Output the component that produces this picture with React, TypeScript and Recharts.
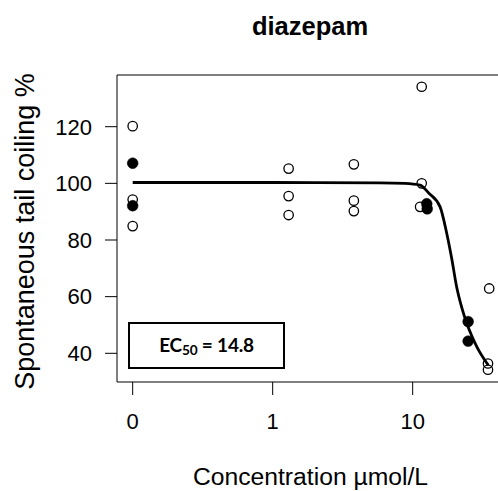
import React from "react";
import {
  ScatterChart,
  Scatter,
  XAxis,
  YAxis,
  ReferenceLine,
  Label,
} from "recharts";

// Control group (concentration 0) is drawn at the position of 0.1 on the log axis
const CONTROL_POS = 0.1;

const openConc = [0, 0, 0, 1.3, 1.3, 1.3, 3.8, 3.8, 3.8, 11.6, 11.6, 11.3, 34.5, 34.5, 35.2];
const openVal = [120.2, 94.3, 84.9, 105.2, 95.5, 88.8, 106.7, 93.9, 90.2, 134.1, 100.0, 91.7, 36.4, 34.2, 62.9];

const filledConc = [0, 0, 12.6, 12.7, 24.9, 24.9];
const filledVal = [107.1, 92.1, 92.8, 91.0, 51.2, 44.3];

const curveConc = [0, 1, 5.8, 8.8, 11.3, 13.0, 15.7, 17.5, 19.0, 20.6, 22.4, 24.3, 26.5, 28.8, 33.8, 34.7];
const curveVal = [100.3, 100.3, 100.2, 100.0, 99.4, 96.6, 91.7, 82.4, 73.5, 63.5, 56.2, 50.7, 46.0, 42.2, 36.6, 35.8];

const xTicks = [0.1, 1, 10];
const xTickLabels = ["0", "1", "10"];
const yTicks = [40, 60, 80, 100, 120];

const X_DOMAIN = [0.07727, 43.45];
const Y_DOMAIN = [29.87, 138.25];

const toPoints = (conc: number[], val: number[]) =>
  conc.map((c, i) => ({ x: c === 0 ? CONTROL_POS : c, y: val[i] }));

const openData = toPoints(openConc, openVal);
const filledData = toPoints(filledConc, filledVal);
const curveData = toPoints(curveConc, curveVal);

const FONT = '"Liberation Sans", Arial, sans-serif';

const OpenDot = (props: any) => (
  <circle cx={props.cx} cy={props.cy} r={4.7} fill="none" stroke="#000" strokeWidth={1.3} />
);
const FilledDot = (props: any) => (
  <circle cx={props.cx} cy={props.cy} r={5.4} fill="#000" stroke="#000" strokeWidth={0.5} />
);
const NoDot = () => <g />;

export default function App() {
  return (
    <div
      style={{
        position: "absolute",
        left: 0,
        top: 0,
        width: 498,
        height: 491,
        overflow: "hidden",
        background: "#fff",
        fontFamily: FONT,
      }}
    >
      <ScatterChart
        width={520}
        height={491}
        margin={{ top: 75, right: 18, bottom: 0, left: 0 }}
      >
        <XAxis
          type="number"
          dataKey="x"
          scale="log"
          domain={X_DOMAIN}
          allowDataOverflow
          ticks={xTicks}
          tickFormatter={(v: number) => xTickLabels[xTicks.indexOf(v)] ?? String(v)}
          height={109}
          tickSize={13}
          tickMargin={18}
          stroke="#000"
          tick={{ fill: "#000", fontSize: 22, fontFamily: FONT }}
        >
          <Label
            content={(p: any) => {
              const vb = p.viewBox || { x: 117, width: 385 };
              const cx = vb.x + vb.width / 2 + 1;
              return (
                <text
                  x={cx}
                  y={485}
                  textAnchor="middle"
                  style={{ fontSize: 24.7, fill: "#000", fontFamily: FONT }}
                >
                  Concentration µmol/L
                </text>
              );
            }}
          />
        </XAxis>
        <YAxis
          type="number"
          dataKey="y"
          domain={Y_DOMAIN}
          allowDataOverflow
          ticks={yTicks}
          width={117}
          tickSize={12}
          tickMargin={13}
          stroke="#000"
          tick={{ fill: "#000", fontSize: 22, fontFamily: FONT }}
        >
          <Label
            content={(p: any) => {
              const vb = p.viewBox || { y: 75, height: 307 };
              const cy = vb.y + vb.height / 2 + 3;
              return (
                <text
                  transform={`translate(34, ${cy}) rotate(-90)`}
                  textAnchor="middle"
                  style={{ fontSize: 27, fill: "#000", fontFamily: FONT }}
                >
                  Spontaneous tail coiling %
                </text>
              );
            }}
          />
        </YAxis>
        <ReferenceLine y={Y_DOMAIN[1]} stroke="#000" strokeWidth={1} ifOverflow="visible" />
        <Scatter
          data={curveData}
          shape={NoDot}
          line={{ stroke: "#000", strokeWidth: 2.8 }}
          lineJointType="monotoneX"
          isAnimationActive={false}
          legendType="none"
        />
        <Scatter data={openData} shape={OpenDot} isAnimationActive={false} />
        <Scatter data={filledData} shape={FilledDot} isAnimationActive={false} />
      </ScatterChart>

      <div
        style={{
          position: "absolute",
          left: 0,
          top: 13,
          width: 620,
          textAlign: "center",
          fontSize: 25.5,
          lineHeight: "26px",
          fontWeight: "bold",
          color: "#000",
          fontFamily: FONT,
        }}
      >
        diazepam
      </div>

      <div
        style={{
          position: "absolute",
          left: 128,
          top: 322,
          width: 157,
          height: 47,
          boxSizing: "border-box",
          border: "2px solid #000",
          display: "flex",
          alignItems: "center",
          justifyContent: "center",
          fontFamily: "Lato, 'Open Sans', sans-serif",
          fontWeight: "bold",
          fontSize: 19,
          color: "#000",
          background: "#fff",
        }}
      >
        <span style={{ letterSpacing: "-0.2px" }}>
          EC<sub style={{ fontSize: "0.72em", verticalAlign: "-0.2em" }}>50</sub> = 14.8
        </span>
      </div>
    </div>
  );
}
